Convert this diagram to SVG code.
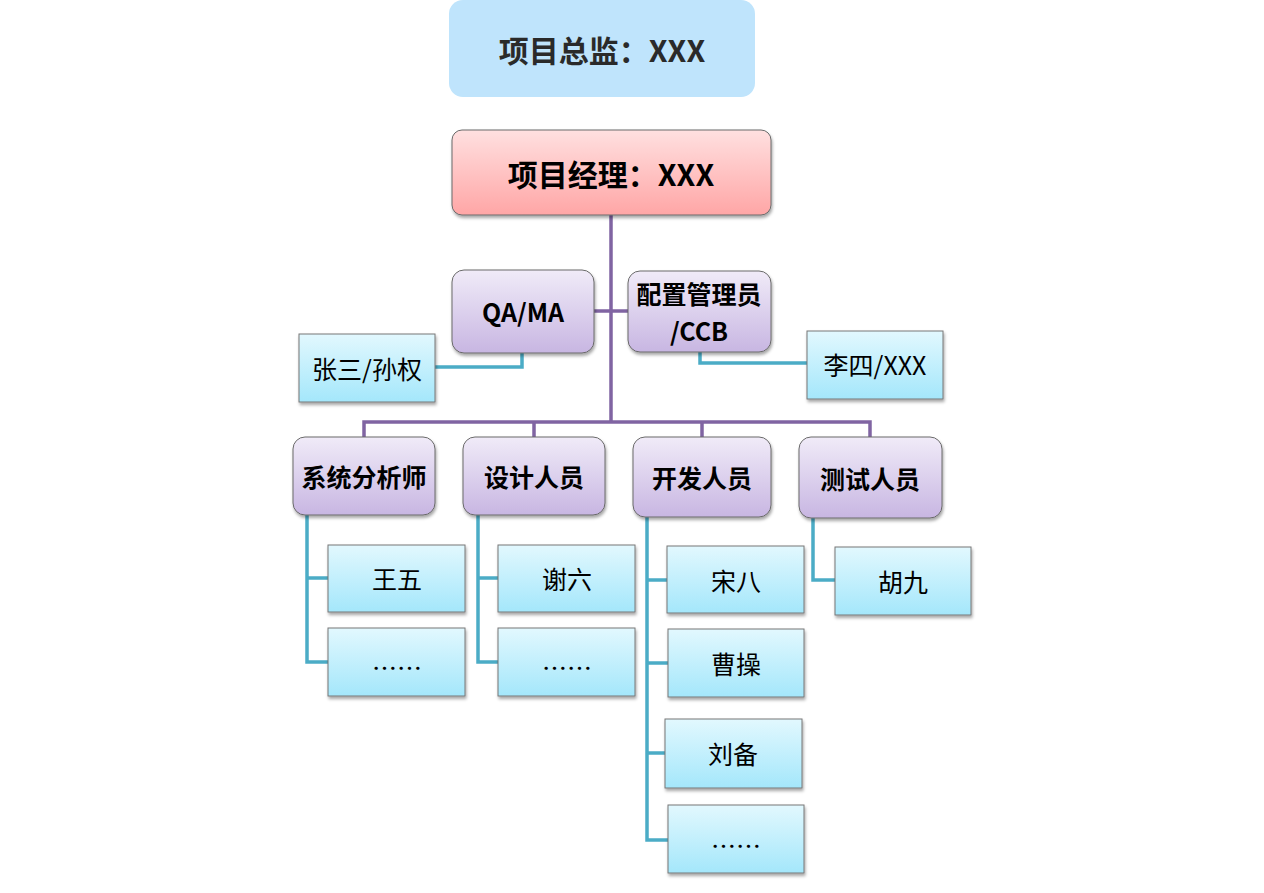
<svg xmlns="http://www.w3.org/2000/svg" width="1264" height="893" viewBox="0 0 1264 893">
<defs>
<linearGradient id="gPink" x1="0" y1="0" x2="0" y2="1"><stop offset="0" stop-color="#ffe0e0"/><stop offset="1" stop-color="#ffa6a6"/></linearGradient>
<linearGradient id="gPurple" x1="0" y1="0" x2="0" y2="1"><stop offset="0" stop-color="#f0ebf8"/><stop offset="1" stop-color="#c8b6e2"/></linearGradient>
<linearGradient id="gCyan" x1="0" y1="0" x2="0" y2="1"><stop offset="0" stop-color="#e2f8fe"/><stop offset="1" stop-color="#a4e7fb"/></linearGradient>
<filter id="sh" x="-10%" y="-10%" width="125%" height="130%"><feDropShadow dx="1" dy="2.5" stdDeviation="1.8" flood-color="#000" flood-opacity="0.35"/></filter>
</defs>
<style>
.t{font-family:"Noto Sans CJK SC","Noto Sans",sans-serif;text-anchor:middle;dominant-baseline:central}
.big{font-size:30px;font-weight:bold}
.mid{font-size:25px;font-weight:bold;fill:#000}
.sm{font-size:25px;fill:#000}
.pk{fill:url(#gPink);stroke:#6a6a6a;stroke-width:1;filter:url(#sh)}
.pu{fill:url(#gPurple);stroke:#6a6a6a;stroke-width:1;filter:url(#sh)}
.cy{fill:url(#gCyan);stroke:#777;stroke-width:1;filter:url(#sh)}
.lp{fill:none;stroke:#8064a2;stroke-width:3.5}
.lc{fill:none;stroke:#4bacc6;stroke-width:3.5}
</style>
<g id="connectors">
<path class="lp" d="M611 215V422M594 311H628M364 437V422H870V437M534 422V437M702 422V437"/>
<path class="lc" d="M522 353V367H435M700 352V363H807"/>
<path class="lc" d="M307 515V662H328M307 578H328"/>
<path class="lc" d="M478 515V662H498M478 578H498"/>
<path class="lc" d="M647 517V840H668M647 580H667M647 663H668M647 753H665"/>
<path class="lc" d="M813 518V580H835"/>
</g>
<g id="director"><rect x="449" y="0" width="306" height="97" rx="14" fill="#bfe4fc"/><text class="t big" x="602" y="49" fill="#2a2a2a">项目总监：XXX</text></g>
<g id="pm"><rect class="pk" x="452" y="130" width="319" height="85" rx="10"/><text class="t big" x="611" y="173" fill="#000">项目经理：XXX</text></g>
<g id="qa"><rect class="pu" x="452" y="270" width="142" height="83" rx="12"/><text class="t mid" x="523" y="311">QA/MA</text></g>
<g id="cm"><rect class="pu" x="628" y="271" width="143" height="81" rx="12"/><text class="t mid" x="699" y="293">配置管理员</text><text class="t mid" x="699" y="330">/CCB</text></g>
<g id="zhangsan"><rect class="cy" x="299" y="334" width="136" height="68"/><text class="t sm" x="367" y="368">张三/孙权</text></g>
<g id="lisi"><rect class="cy" x="807" y="331" width="136" height="68"/><text class="t sm" x="875" y="364">李四/XXX</text></g>
<g id="sa"><rect class="pu" x="293" y="437" width="142" height="78" rx="12"/><text class="t mid" x="364" y="476">系统分析师</text></g>
<g id="design"><rect class="pu" x="463" y="437" width="142" height="78" rx="12"/><text class="t mid" x="534" y="476">设计人员</text></g>
<g id="dev"><rect class="pu" x="633" y="437" width="138" height="80" rx="12"/><text class="t mid" x="702" y="477">开发人员</text></g>
<g id="test"><rect class="pu" x="799" y="437" width="143" height="81" rx="12"/><text class="t mid" x="870" y="478">测试人员</text></g>
<g id="wangwu"><rect class="cy" x="328" y="545" width="137" height="67"/><text class="t sm" x="397" y="578">王五</text></g>
<g id="sa_more"><rect class="cy" x="328" y="628" width="137" height="68"/><text class="t sm" x="397" y="667">……</text></g>
<g id="xieliu"><rect class="cy" x="498" y="545" width="137" height="67"/><text class="t sm" x="567" y="578">谢六</text></g>
<g id="design_more"><rect class="cy" x="498" y="628" width="137" height="68"/><text class="t sm" x="567" y="667">……</text></g>
<g id="songba"><rect class="cy" x="667" y="546" width="137" height="67"/><text class="t sm" x="736" y="580">宋八</text></g>
<g id="caocao"><rect class="cy" x="668" y="629" width="136" height="68"/><text class="t sm" x="736" y="663">曹操</text></g>
<g id="liubei"><rect class="cy" x="665" y="719" width="137" height="69"/><text class="t sm" x="733" y="753">刘备</text></g>
<g id="dev_more"><rect class="cy" x="668" y="805" width="136" height="68"/><text class="t sm" x="736" y="845">……</text></g>
<g id="hujiu"><rect class="cy" x="835" y="547" width="136" height="68"/><text class="t sm" x="903" y="581">胡九</text></g>
</svg>
